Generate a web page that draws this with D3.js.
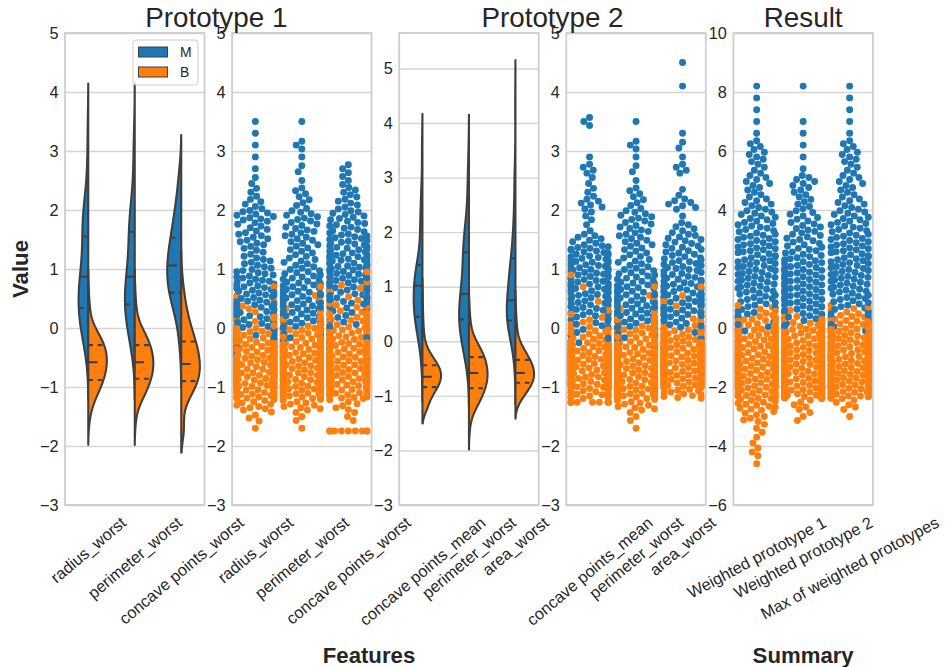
<!DOCTYPE html>
<html>
<head>
<meta charset="utf-8">
<script src="https://cdn.jsdelivr.net/npm/d3@7"></script>
<style>
  body { margin: 0; background: #fff; }
  text { font-family: "Liberation Sans", Arial, sans-serif; }
</style>
</head>
<body>
<svg id="chart" width="945" height="667"></svg>
<script>
// categories
var proto1Features = ["radius_worst", "perimeter_worst", "concave points_worst"];
var proto2Features = ["concave points_mean", "perimeter_worst", "area_worst"];
var summaryLabels = ["Weighted prototype 1", "Weighted prototype 2", "Max of weighted prototypes"];
var classes = ["M", "B"];

// binned counts (features: M bins start at -0.6, B bins at -1.8, step 0.2)
var featureStep = 0.2, featureStartM = -0.6, featureStartB = -1.8;
var radiusWorstM = [2, 5, 9, 12, 14, 13, 13, 11, 8, 6, 8, 7, 10, 5, 3, 2, 1, 1, 1, 1, 1];
var radiusWorstB = [1, 4, 10, 23, 34, 41, 43, 38, 24, 8, 4, 2, 1];
var perimeterWorstM = [2, 5, 9, 11, 14, 14, 13, 11, 8, 7, 8, 8, 8, 4, 4, 1, 2, 1, 3, 0, 1];
var perimeterWorstB = [1, 3, 10, 25, 35, 42, 41, 36, 24, 9, 4, 2, 1];
var concavePointsWorstM = [1, 2, 3, 5, 8, 14, 16, 17, 17, 15, 13, 10, 9, 6, 5, 3, 3];
var concavePointsWorstB = [0, 3, 6, 22, 33, 36, 34, 30, 22, 16, 10, 7, 4, 2];
var concavePointsMeanM = [1, 2, 4, 8, 13, 15, 16, 15, 15, 14, 8, 2, 3, 6, 3, 2, 4, 1, 0, 0, 3];
var concavePointsMeanB = [0, 0, 0, 19, 39, 57, 54, 31, 11, 5, 3, 2, 1, 1];
var areaWorstM = [1, 2, 4, 9, 18, 18, 15, 12, 12, 10, 9, 6, 1, 7, 2, 0, 4, 1, 2, 1, 0, 0, 0, 1, 0, 1];
var areaWorstB = [0, 0, 0, 13, 37, 55, 54, 40, 20, 7, 4, 2, 1];
// tied values (zeros of the concave points features after scaling)
var concavePointsWorstTiesB = [[-1.745, 9]];
var concavePointsMeanTiesB = [[-1.26, 9]];

// summary: M bins start at -0.4, B bins at -4.8, step 0.4
var summaryStep = 0.4, summaryStartM = -0.4, summaryStartB = -4.8;
var weighted1M = [2, 5, 8, 11, 12, 12, 12, 12, 11, 10, 9, 7, 5, 6, 4, 5, 4, 1, 1, 1, 1, 1];
var weighted1B = [1, 3, 2, 3, 7, 12, 20, 27, 32, 33, 30, 26, 18, 6];
var weighted2M = [2, 7, 11, 13, 13, 13, 12, 10, 9, 8, 7, 5, 5, 6, 1, 1, 1, 1, 1, 0, 0, 1];
var weighted2B = [0, 0, 0, 0, 3, 5, 38, 36, 35, 34, 32, 30, 16, 3];
var maxWeightedM = [2, 5, 8, 11, 12, 12, 12, 12, 11, 10, 9, 7, 5, 6, 4, 5, 4, 1, 1, 1, 1, 1];
var maxWeightedB = [0, 0, 0, 0, 1, 5, 32, 36, 36, 35, 33, 29, 18, 7];

// quartiles [q25, median, q75]
var quartRadiusWorst = {M: [0.34, 0.87, 1.55], B: [-0.88, -0.58, -0.29]};
var quartPerimeterWorst = {M: [0.40, 0.87, 1.63], B: [-0.86, -0.58, -0.29]};
var quartConcaveWorst = {M: [0.60, 1.06, 1.53], B: [-0.90, -0.61, -0.23]};
var quartConcaveMean = {M: [0.45, 1.02, 1.40], B: [-0.84, -0.65, -0.44]};
var quartAreaWorst = {M: [0.38, 0.75, 1.52], B: [-0.76, -0.58, -0.34]};

// y ticks
var featureTicks = [-3, -2, -1, 0, 1, 2, 3, 4, 5];
var summaryTicks = [-6, -4, -2, 0, 2, 4, 6, 8, 10];

// look and layout
var classColors = ["#1f77b4", "#ff7f0e"];
var violinLine = "#3f3f3f";
var gridColor = "#d5d5d5";
var frameColor = "#cccccc";
var textColor = "#262626";
var tickFont = 16.3;
var plotTop = 33, plotBottom = 505;
var firstLeft = 65, panelStep = 167.1, panelWidth = 139.5;
var dotRadius = 3.47;
var lineW = 2.08;

// turn bin counts into values (evenly placed inside each bin)
function expand(counts, start, step, ties) {
    var vals = [];
    counts.forEach(function(n, i) {
        for (var k = 0; k < n; k++) vals.push(start + step * i + step * (k + 0.5) / n);
    });
    (ties || []).forEach(function(t) {
        for (var k = 0; k < t[1]; k++) vals.push(t[0]);
    });
    return vals;
}

var series = {
    "radius_worst": {M: expand(radiusWorstM, featureStartM, featureStep), B: expand(radiusWorstB, featureStartB, featureStep), q: quartRadiusWorst},
    "perimeter_worst": {M: expand(perimeterWorstM, featureStartM, featureStep), B: expand(perimeterWorstB, featureStartB, featureStep), q: quartPerimeterWorst},
    "concave points_worst": {M: expand(concavePointsWorstM, featureStartM, featureStep), B: expand(concavePointsWorstB, featureStartB, featureStep, concavePointsWorstTiesB), q: quartConcaveWorst},
    "concave points_mean": {M: expand(concavePointsMeanM, featureStartM, featureStep), B: expand(concavePointsMeanB, featureStartB, featureStep, concavePointsMeanTiesB), q: quartConcaveMean},
    "area_worst": {M: expand(areaWorstM, featureStartM, featureStep), B: expand(areaWorstB, featureStartB, featureStep), q: quartAreaWorst},
    "Weighted prototype 1": {M: expand(weighted1M, summaryStartM, summaryStep), B: expand(weighted1B, summaryStartB, summaryStep)},
    "Weighted prototype 2": {M: expand(weighted2M, summaryStartM, summaryStep), B: expand(weighted2B, summaryStartB, summaryStep)},
    "Max of weighted prototypes": {M: expand(maxWeightedM, summaryStartM, summaryStep), B: expand(maxWeightedB, summaryStartB, summaryStep)}
};

var panels = [
    {type: "violin", cats: proto1Features, yDomain: [-3, 5], ticks: featureTicks, rot: 40},
    {type: "swarm", cats: proto1Features, yDomain: [-3, 5], ticks: featureTicks, rot: 40},
    {type: "violin", cats: proto2Features, yDomain: [-3, 5.65], ticks: featureTicks, rot: 40},
    {type: "swarm", cats: proto2Features, yDomain: [-3, 5], ticks: featureTicks, rot: 40},
    {type: "swarm", cats: summaryLabels, yDomain: [-6, 10], ticks: summaryTicks, rot: 28}
];

// gaussian kde, scott bandwidth, cut = 2
function kde(values) {
    var n = values.length;
    var bw = d3.deviation(values) * Math.pow(n, -0.2);
    var lo = d3.min(values) - 2 * bw, hi = d3.max(values) + 2 * bw;
    var norm = 1 / (n * bw * Math.sqrt(2 * Math.PI));
    return d3.range(100).map(function(i) {
        var g = lo + (hi - lo) * i / 99;
        var s = 0;
        for (var j = 0; j < n; j++) { var z = (g - values[j]) / bw; s += Math.exp(-0.5 * z * z); }
        return [g, s * norm];
    });
}

// seaborn-like beeswarm in pixel space
function beeswarm(points, r, halfWidth) {
    var sorted = points.slice().sort(function(a, b) { return a.py - b.py; });
    var placed = [];
    var d2 = 4 * r * r;
    sorted.forEach(function(p) {
        var nb = [];
        for (var j = placed.length - 1; j >= 0; j--) {
            if (p.py - placed[j].py >= 2 * r) break;
            nb.push(placed[j]);
        }
        var cands = [0];
        nb.forEach(function(q) {
            var dy = p.py - q.py;
            var dx = Math.sqrt(Math.max(0, d2 - dy * dy));
            cands.push(q.dx - dx, q.dx + dx);
        });
        cands.sort(function(a, b) { return Math.abs(a) - Math.abs(b); });
        p.dx = 0;
        for (var c = 0; c < cands.length; c++) {
            var ok = true;
            for (var k = 0; k < nb.length; k++) {
                var ddx = cands[c] - nb[k].dx, ddy = p.py - nb[k].py;
                if (ddx * ddx + ddy * ddy < d2 - 1e-6) { ok = false; break; }
            }
            if (ok) { p.dx = cands[c]; break; }
        }
        placed.push(p);
    });
    points.forEach(function(p) { p.dx = Math.max(-halfWidth, Math.min(halfWidth, p.dx)); });
}

var svg = d3.select("#chart");

panels.forEach(function(panel, pi) {
    var left = firstLeft + pi * panelStep;
    var x = d3.scaleBand().domain(panel.cats).range([left, left + panelWidth]);
    var y = d3.scaleLinear().domain(panel.yDomain).range([plotBottom, plotTop]);
    var g = svg.append("g");

    // horizontal grid
    g.append("g")
        .attr("transform", "translate(" + left + ",0)")
        .call(d3.axisLeft(y).tickValues(panel.ticks).tickSize(-panelWidth).tickFormat(""))
        .call(function(a) { a.select(".domain").remove(); })
        .selectAll("line").attr("stroke", gridColor).attr("stroke-width", 1.4);

    var marks = g.append("g");
    panel.cats.forEach(function(cat) {
        var cx = x(cat) + x.bandwidth() / 2;
        var s = series[cat];
        if (panel.type === "violin") {
            var kM = kde(s.M), kB = kde(s.B);
            var maxD = d3.max(kM.concat(kB), function(d) { return d[1]; });
            var w = d3.scaleLinear().domain([0, maxD]).range([0, 0.4 * x.bandwidth()]);
            [kM, kB].forEach(function(k, ci) {
                var side = ci === 0 ? -1 : 1;
                var area = d3.area()
                    .y(function(d) { return y(d[0]); })
                    .x0(cx)
                    .x1(function(d) { return cx + side * w(d[1]); });
                marks.append("path")
                    .attr("d", area(k))
                    .attr("fill", classColors[ci])
                    .attr("stroke", violinLine)
                    .attr("stroke-width", lineW)
                    .attr("stroke-linejoin", "round");
                s.q[classes[ci]].forEach(function(qv, qi) {
                    var idx = d3.minIndex(k, function(d) { return Math.abs(d[0] - qv); });
                    var qw = w(k[idx][1]) * 0.99;
                    var dash = qi === 1 ? lineW * 4.5 : lineW * 2.25;
                    marks.append("line")
                        .attr("x1", ci === 0 ? cx - qw : cx)
                        .attr("x2", ci === 0 ? cx : cx + qw)
                        .attr("y1", y(qv)).attr("y2", y(qv))
                        .attr("stroke", violinLine)
                        .attr("stroke-width", lineW)
                        .attr("stroke-dasharray", dash + "," + dash);
                });
            });
        } else {
            var pts = [];
            classes.forEach(function(cls, ci) {
                s[cls].forEach(function(v, i) {
                    pts.push({v: v, cls: ci, py: y(v), order: (i * 0.6180339887 + ci * 0.5) % 1});
                });
            });
            beeswarm(pts, dotRadius, 0.4 * x.bandwidth());
            pts.sort(function(a, b) { return a.order - b.order; });
            marks.append("g").selectAll("circle")
                .data(pts)
                .join("circle")
                .attr("cx", function(d) { return cx + d.dx; })
                .attr("cy", function(d) { return d.py; })
                .attr("r", dotRadius)
                .attr("fill", function(d) { return classColors[d.cls]; });
        }
    });

    // frame
    g.append("rect")
        .attr("x", left).attr("y", plotTop)
        .attr("width", panelWidth).attr("height", plotBottom - plotTop)
        .attr("fill", "none").attr("stroke", frameColor).attr("stroke-width", 1.74);

    // y tick labels
    g.append("g")
        .attr("transform", "translate(" + left + ",0)")
        .call(d3.axisLeft(y).tickValues(panel.ticks).tickSize(0).tickPadding(6.5))
        .call(function(a) { a.select(".domain").remove(); })
        .attr("font-family", null).attr("font-size", null)
        .selectAll("text").attr("font-size", tickFont).attr("fill", textColor);

    // x tick labels, rotated
    var xa = g.append("g")
        .attr("transform", "translate(0," + plotBottom + ")")
        .call(d3.axisBottom(x).tickSize(0));
    xa.select(".domain").remove();
    xa.attr("font-family", null).attr("font-size", null);
    xa.selectAll("text")
        .attr("font-size", tickFont)
        .attr("fill", textColor)
        .attr("y", 0)
        .attr("dy", "0.35em")
        .attr("text-anchor", "middle")
        .attr("transform", function() {
            var L = this.getComputedTextLength();
            var a = panel.rot * Math.PI / 180;
            var h = L * Math.sin(a) + tickFont * Math.cos(a);
            return "translate(0," + (9 + h / 2) + ") rotate(" + (-panel.rot) + ")";
        });

    if (pi === 0) {
        // legend
        var lg = g.append("g").attr("transform", "translate(133,40)");
        lg.append("rect").attr("width", 65).attr("height", 45).attr("rx", 3)
            .attr("fill", "#fff").attr("fill-opacity", 0.8)
            .attr("stroke", frameColor).attr("stroke-width", 1);
        classes.forEach(function(cls, ci) {
            lg.append("rect").attr("x", 5.5).attr("y", 7 + ci * 20).attr("width", 29).attr("height", 10)
                .attr("fill", classColors[ci]).attr("stroke", violinLine).attr("stroke-width", 1);
            lg.append("text").attr("x", 47).attr("y", 16.5 + ci * 20)
                .attr("font-size", 13.9).attr("fill", textColor).text(cls);
        });
    }
});

// titles
var titles = [
    {text: "Prototype 1", x: firstLeft + (panelStep + panelWidth) / 2 - 2},
    {text: "Prototype 2", x: firstLeft + 2 * panelStep + (panelStep + panelWidth) / 2},
    {text: "Result", x: firstLeft + 4 * panelStep + panelWidth / 2}
];
svg.selectAll(".title").data(titles).join("text")
    .attr("class", "title")
    .attr("x", function(d) { return d.x; })
    .attr("y", 27)
    .attr("text-anchor", "middle")
    .attr("font-size", 27.8)
    .attr("fill", textColor)
    .text(function(d) { return d.text; });

// axis labels
svg.append("text")
    .attr("transform", "translate(28," + (plotTop + plotBottom) / 2 + ") rotate(-90)")
    .attr("text-anchor", "middle").attr("font-size", 22.2).attr("font-weight", "bold")
    .attr("fill", textColor).text("Value");
svg.append("text")
    .attr("x", 369).attr("y", 663)
    .attr("text-anchor", "middle").attr("font-size", 22.2).attr("font-weight", "bold")
    .attr("fill", textColor).text("Features");
svg.append("text")
    .attr("x", firstLeft + 4 * panelStep + panelWidth / 2).attr("y", 663)
    .attr("text-anchor", "middle").attr("font-size", 22.2).attr("font-weight", "bold")
    .attr("fill", textColor).text("Summary");
</script>
</body>
</html>
